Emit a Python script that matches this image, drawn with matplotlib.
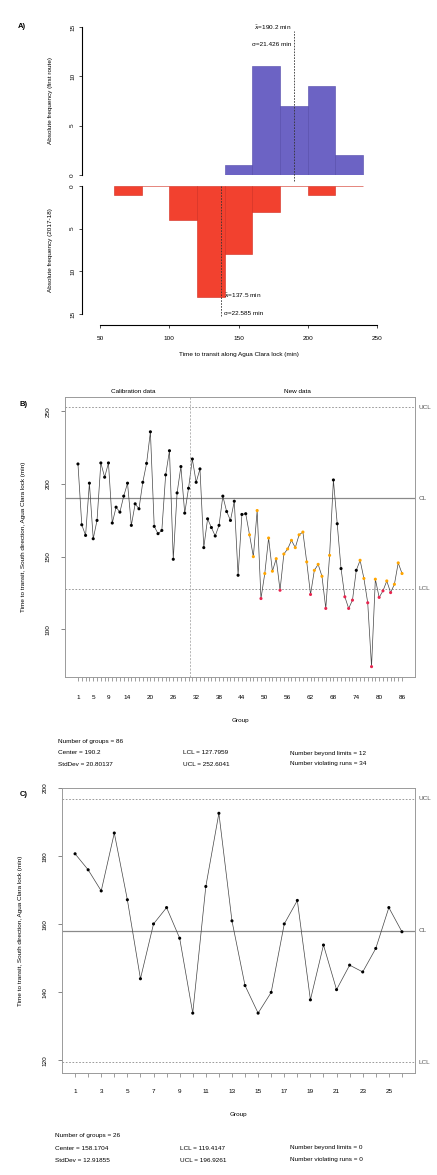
import matplotlib
matplotlib.use("Agg")
import matplotlib.pyplot as plt
import numpy as np

plt.rcParams['font.family'] = ['Liberation Sans', 'DejaVu Sans']

# ---- panel A: histograms of transit time (20 min bins) ----
bin_left = [60, 80, 100, 120, 140, 160, 180, 200, 220]
first_counts = [0, 0, 0, 0, 1, 11, 7, 9, 2]
second_counts = [1, 0, 4, 13, 8, 3, 0, 1, 0]
first_mean, first_sd = 190.2, 21.426
second_mean, second_sd = 137.5, 22.585
hist_xticks = [50, 100, 150, 200, 250]
freq_ticks = [0, 5, 10, 15]

# ---- panel B: control chart, calibration (1-30) + new data (31-86) ----
calib_b = [213.7, 171.9, 164.6, 200.5, 162.3, 174.9, 214.4, 204.6, 214.4, 173.1,
           184.0, 180.6, 191.6, 200.5, 171.5, 186.3, 182.9, 201.1, 214.1, 235.8,
           170.8, 165.8, 168.0, 206.2, 222.8, 148.2, 193.8, 211.9, 179.9, 197.0]
new_b = [217.1, 201.1, 210.3, 156.2, 176.0, 170.0, 164.2, 171.5, 191.6, 181.0,
         174.9, 188.1, 137.2, 179.0, 179.5, 165.0, 150.0, 181.7, 121.2, 138.4,
         162.8, 140.0, 148.6, 126.9, 151.8, 155.3, 161.2, 156.2, 165.0, 166.9,
         146.4, 124.0, 140.6, 144.7, 136.5, 114.4, 150.9, 202.7, 172.6, 141.8,
         122.4, 114.4, 120.1, 140.6, 147.5, 135.0, 118.3, 74.4, 134.5, 122.0,
         126.5, 133.3, 125.3, 131.0, 145.7, 138.4]
center_b, sd_b = 190.2, 20.80137
labels_b = [1, 5, 9, 14, 20, 26, 32, 38, 44, 50, 56, 62, 68, 74, 80, 86]

# ---- panel C: control chart, 26 groups ----
values_c = [180.7, 176.0, 169.8, 186.8, 167.2, 144.0, 160.1, 164.9, 155.9, 133.9,
            171.1, 192.6, 161.0, 142.0, 133.9, 140.0, 160.1, 167.0, 137.8, 153.9,
            140.8, 148.0, 146.0, 152.9, 164.9, 157.8]
center_c, sd_c = 158.1704, 12.91855
labels_c = list(range(1, 27, 2))

W, H = 437, 1175
fig = plt.figure(figsize=(W / 100, H / 100), dpi=100)


def box(l, t, r, b):
    return [l / W, 1 - b / H, (r - l) / W, (b - t) / H]


def ftext(x, y, s, **kw):
    fig.text(x / W, 1 - y / H, s, **kw)


FS = 4.6
blue = '#6c63c4'
red_bar = '#f2412f'

# top histogram
ax1 = fig.add_axes(box(100, 27, 377, 175))
ax1.bar(bin_left, first_counts, width=20, align='edge', color=blue,
        edgecolor='#5148a8', linewidth=0.4)
ax1.set_xlim(50, 250)
ax1.set_ylim(0, 15)
for s in ['top', 'right', 'bottom']:
    ax1.spines[s].set_visible(False)
ax1.spines['left'].set_position(('outward', 13))
ax1.spines['left'].set_bounds(0, 15)
ax1.set_xticks([])
ax1.set_yticks(freq_ticks)
ax1.set_yticklabels([str(t) for t in freq_ticks], rotation=90, va='center', fontsize=FS)
ax1.tick_params(axis='y', length=2.5, width=0.5, pad=2.5)
ax1.set_ylabel('Absolute frequency (first route)', fontsize=FS, labelpad=12)
ax1.plot([first_mean, first_mean], [-0.6, 14.6], ls=(0, (2, 1.5)), color='#333333',
         lw=0.6, clip_on=False)
ax1.text(first_mean - 2, 14.9, '$\\bar{x}$=%.1f min' % first_mean, ha='right', va='center', fontsize=FS)
ax1.text(first_mean - 2, 13.2, 'σ=%.3f min' % first_sd, ha='right', va='center', fontsize=FS)

# bottom histogram
ax2 = fig.add_axes(box(100, 186, 377, 314))
ax2.bar(bin_left, second_counts, width=20, align='edge', color=red_bar,
        edgecolor='#d22a1c', linewidth=0.4)
ax2.set_xlim(50, 250)
ax2.set_ylim(15, 0)
for s in ['top', 'right']:
    ax2.spines[s].set_visible(False)
ax2.spines['left'].set_position(('outward', 13))
ax2.spines['left'].set_bounds(0, 15)
ax2.spines['bottom'].set_position(('outward', 8))
ax2.spines['bottom'].set_bounds(50, 250)
ax2.set_yticks(freq_ticks)
ax2.set_yticklabels([str(t) for t in freq_ticks], rotation=90, va='center', fontsize=FS)
ax2.set_xticks(hist_xticks)
ax2.set_xticklabels([str(t) for t in hist_xticks], fontsize=FS)
ax2.tick_params(axis='y', length=2.5, width=0.5, pad=2.5)
ax2.tick_params(axis='x', length=2.5, width=0.5, pad=5)
ax2.set_ylabel('Absolute frequency (2017-18)', fontsize=FS, labelpad=12)
ax2.set_xlabel('Time to transit along Agua Clara lock (min)', fontsize=FS, labelpad=8)
ax2.plot([second_mean, second_mean], [0, 15.2], ls=(0, (2, 1.5)), color='#333333',
         lw=0.6, clip_on=False)
ax2.text(second_mean + 2, 12.9, '$\\bar{x}$=%.1f min' % second_mean, ha='left', va='center', fontsize=FS)
ax2.text(second_mean + 2, 14.9, 'σ=%.3f min' % second_sd, ha='left', va='center', fontsize=FS)
ftext(18, 26, 'A)', fontsize=5.5, fontweight='bold', va='center')


def point_colors(vals, center, lcl, ucl, run_len=7):
    cols, n_out, n_run = [], 0, 0
    side_prev, run = 0, 0
    for v in vals:
        side = 1 if v > center else -1
        run = run + 1 if side == side_prev else 1
        side_prev = side
        if run >= run_len:
            n_run += 1
        if v < lcl or v > ucl:
            cols.append('#e8254f')
            n_out += 1
        elif run >= run_len:
            cols.append('#ffa500')
        else:
            cols.append('black')
    return cols, n_out, n_run


def control_chart(ax, vals, center, sd, tick_labels, yticks, ylabel_text, xpad):
    n = len(vals)
    g = np.arange(1, n + 1)
    lcl, ucl = center - 3 * sd, center + 3 * sd
    cols, n_out, n_run = point_colors(vals, center, lcl, ucl)
    ax.plot(g, vals, color='#444444', lw=0.5, zorder=2)
    ax.scatter(g, vals, c=cols, s=5, zorder=3, linewidths=0)
    ax.axhline(center, color='#8a8a8a', lw=0.9, zorder=1)
    ax.axhline(ucl, color='#8a8a8a', lw=0.6, ls=(0, (2, 2)), zorder=1)
    ax.axhline(lcl, color='#8a8a8a', lw=0.6, ls=(0, (2, 2)), zorder=1)
    lo, hi = min(min(vals), lcl), max(max(vals), ucl)
    pad = 0.04 * (hi - lo)
    ax.set_ylim(lo - pad, hi + pad)
    ax.set_xlim(1 - 0.04 * (n - 1), n + 0.04 * (n - 1))
    ax.set_xticks(g)
    ax.set_xticklabels([str(i) if i in tick_labels else '' for i in g], fontsize=FS)
    ax.set_yticks(yticks)
    ax.set_yticklabels([str(t) for t in yticks], rotation=90, va='center', fontsize=FS)
    ax.tick_params(axis='x', length=3, width=0.4, pad=xpad, color='#555555')
    ax.tick_params(axis='y', length=3, width=0.5, pad=7.5, color='#555555')
    for s in ax.spines.values():
        s.set_color('#9a9a9a')
        s.set_linewidth(0.7)
    ax.set_xlabel('Group', fontsize=FS, labelpad=13)
    ax.set_ylabel(ylabel_text, fontsize=FS, labelpad=14)
    ax.text(1.01, ucl, 'UCL', transform=ax.get_yaxis_transform(), fontsize=FS, va='center', color='#555555')
    ax.text(1.01, center, 'CL', transform=ax.get_yaxis_transform(), fontsize=FS, va='center', color='#555555')
    ax.text(1.01, lcl, 'LCL', transform=ax.get_yaxis_transform(), fontsize=FS, va='center', color='#555555')
    return lcl, ucl, n_out, n_run


ylab = 'Time to transit, South direction, Agua Clara lock (min)'

# panel B
ax3 = fig.add_axes(box(65, 397, 415, 677))
vals_b = calib_b + new_b
lcl_b, ucl_b, out_b, run_b = control_chart(ax3, vals_b, center_b, sd_b, labels_b,
                                           [100, 150, 200, 250], ylab, 10)
ax3.axvline(len(calib_b) + 0.5, color='#9a9a9a', lw=0.5, ls=(0, (3, 2)))
ax3.text((1 + len(calib_b)) / 2, 1.01, 'Calibration data', transform=ax3.get_xaxis_transform(),
         ha='center', va='bottom', fontsize=FS)
ax3.text((len(calib_b) + 1 + len(vals_b)) / 2, 1.01, 'New data', transform=ax3.get_xaxis_transform(),
         ha='center', va='bottom', fontsize=FS)
ftext(20, 404, 'B)', fontsize=5.5, fontweight='bold', va='center')

ftext(58, 741, 'Number of groups = %d' % len(vals_b), fontsize=FS, va='center')
ftext(58, 753, 'Center = %.1f' % center_b, fontsize=FS, va='center')
ftext(58, 764, 'StdDev = %.5f' % sd_b, fontsize=FS, va='center')
ftext(183, 753, 'LCL = %.4f' % lcl_b, fontsize=FS, va='center')
ftext(183, 764, 'UCL = %.4f' % ucl_b, fontsize=FS, va='center')
ftext(290, 753, 'Number beyond limits = %d' % out_b, fontsize=FS, va='center')
ftext(290, 764, 'Number violating runs = %d' % run_b, fontsize=FS, va='center')

# panel C
ax4 = fig.add_axes(box(62, 788, 415, 1073))
lcl_c, ucl_c, out_c, run_c = control_chart(ax4, values_c, center_c, sd_c, labels_c,
                                           [120, 140, 160, 180, 200], ylab, 8.5)
ftext(20, 795, 'C)', fontsize=5.5, fontweight='bold', va='center')

ftext(55, 1135, 'Number of groups = %d' % len(values_c), fontsize=FS, va='center')
ftext(55, 1148, 'Center = %.4f' % center_c, fontsize=FS, va='center')
ftext(55, 1160, 'StdDev = %.5f' % sd_c, fontsize=FS, va='center')
ftext(180, 1148, 'LCL = %.4f' % lcl_c, fontsize=FS, va='center')
ftext(180, 1160, 'UCL = %.4f' % ucl_c, fontsize=FS, va='center')
ftext(290, 1148, 'Number beyond limits = %d' % out_c, fontsize=FS, va='center')
ftext(290, 1160, 'Number violating runs = %d' % run_c, fontsize=FS, va='center')

fig.savefig('out.png', dpi=100)
